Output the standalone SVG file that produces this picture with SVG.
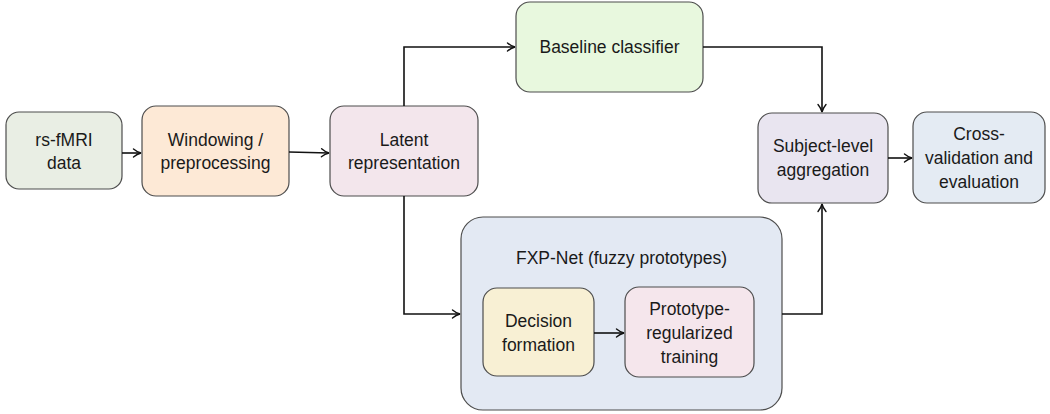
<svg xmlns="http://www.w3.org/2000/svg" width="1050" height="414" viewBox="0 0 1050 414">
  <style>
    .box { stroke: #4d4d4d; stroke-width: 1.2; }
    .lbl { font-family: "Liberation Sans", "DejaVu Sans", sans-serif; font-size: 17.5px; fill: #1a1a1a; text-anchor: middle; dominant-baseline: central; }
    .wire { fill: none; stroke: #111; stroke-width: 1.6; marker-end: url(#arr); }
  </style>
  <defs>
    <marker id="arr" viewBox="0 0 11 11" refX="10" refY="5.5" markerWidth="11" markerHeight="11" markerUnits="userSpaceOnUse" orient="auto">
      <path d="M2.5,1.5 Q6,4.5 10,5.5 Q6,6.5 2.5,9.5" fill="none" stroke="#111" stroke-width="1.4" stroke-linecap="round"/>
    </marker>
  </defs>
  <rect width="1050" height="414" fill="#fff"/>

  <g id="rsfmri">
    <rect class="box" x="6" y="112" width="116" height="77" rx="13" fill="#e9eee4"/>
    <text class="lbl" x="64" y="140">rs-fMRI</text>
    <text class="lbl" x="64" y="163">data</text>
  </g>

  <g id="windowing">
    <rect class="box" x="142" y="106" width="147" height="90" rx="14" fill="#fde9d6"/>
    <text class="lbl" x="215.5" y="140">Windowing /</text>
    <text class="lbl" x="215.5" y="163">preprocessing</text>
  </g>

  <g id="latent">
    <rect class="box" x="330" y="106" width="148" height="90" rx="14" fill="#f3e6ec"/>
    <text class="lbl" x="404" y="140">Latent</text>
    <text class="lbl" x="404" y="163">representation</text>
  </g>

  <g id="baseline">
    <rect class="box" x="516" y="2" width="187" height="90" rx="14" fill="#e8f8de"/>
    <text class="lbl" x="609.5" y="47">Baseline classifier</text>
  </g>

  <g id="subject">
    <rect class="box" x="758" y="113" width="130" height="90" rx="14" fill="#e9e5f0"/>
    <text class="lbl" x="823" y="146">Subject-level</text>
    <text class="lbl" x="823" y="170">aggregation</text>
  </g>

  <g id="crossval">
    <rect class="box" x="913" y="112" width="132" height="91" rx="14" fill="#e4ebf3"/>
    <text class="lbl" x="979" y="134">Cross-</text>
    <text class="lbl" x="979" y="158">validation and</text>
    <text class="lbl" x="979" y="182">evaluation</text>
  </g>

  <g id="fxpnet">
    <rect class="box" x="461" y="217" width="321" height="193" rx="22" fill="#e3e9f3"/>
    <text class="lbl" x="621.5" y="258">FXP-Net (fuzzy prototypes)</text>
  </g>

  <g id="decision">
    <rect class="box" x="483" y="288" width="111" height="88" rx="14" fill="#f8f0d4"/>
    <text class="lbl" x="538.5" y="321">Decision</text>
    <text class="lbl" x="538.5" y="345">formation</text>
  </g>

  <g id="prototype">
    <rect class="box" x="625" y="287" width="129" height="90" rx="14" fill="#f5e6ec"/>
    <text class="lbl" x="689.5" y="309">Prototype-</text>
    <text class="lbl" x="689.5" y="333">regularized</text>
    <text class="lbl" x="689.5" y="357">training</text>
  </g>

  <g id="connectors">
    <path class="wire" d="M122,153 H141"/>
    <path class="wire" d="M289,152 L329,153"/>
    <path class="wire" d="M404,106 V47 H515"/>
    <path class="wire" d="M404,196 V314 H460"/>
    <path class="wire" d="M703,47 H822 V112"/>
    <path class="wire" d="M782,314 H822 V204"/>
    <path class="wire" d="M888,158 H912"/>
    <path class="wire" d="M594,333 H624"/>
  </g>
</svg>
